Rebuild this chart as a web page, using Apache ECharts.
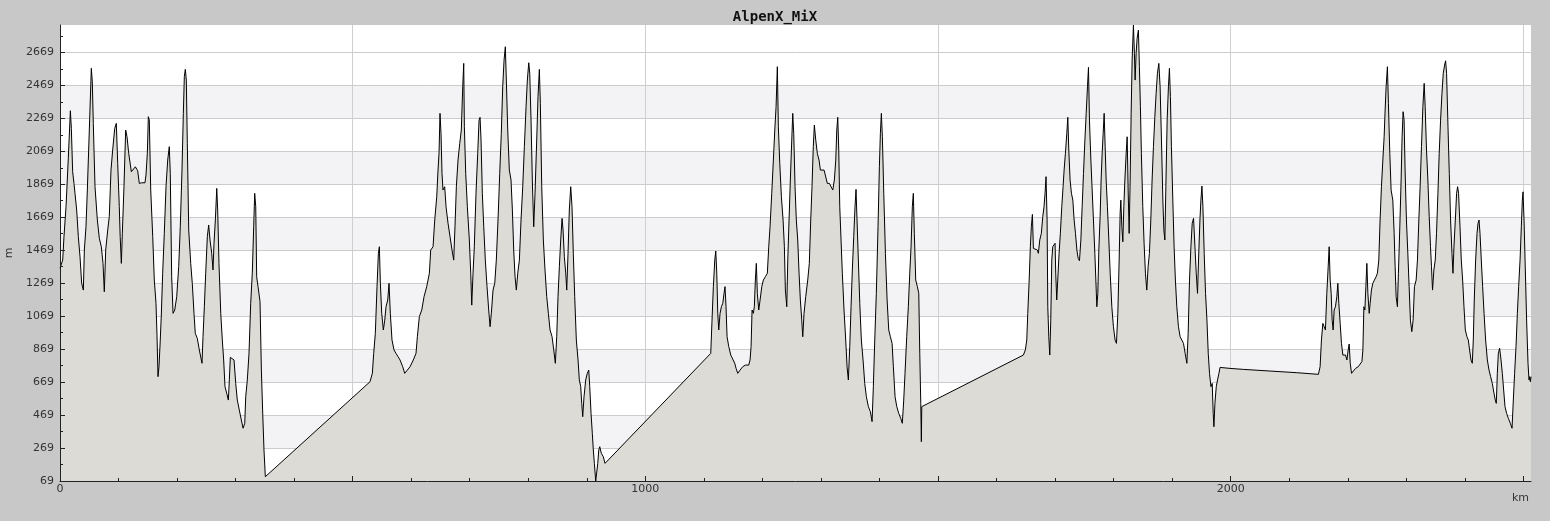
<!DOCTYPE html>
<html><head><meta charset="utf-8">
<script src="https://cdn.jsdelivr.net/npm/echarts@6/dist/echarts.min.js"></script>
<style>html,body{margin:0;padding:0;background:#c8c8c8}#c{width:1550px;height:521px}</style>
</head><body><div id="c"></div>
<script>
const chartTitle = 'AlpenX_MiX';
const xName = 'km';
const yName = 'm';

// elevation profile [km, m], split where the track jumps
const seg1 = [[0,1360],[4.6,1409],[6.8,1551],[10.3,1733],[14.2,2026],[17.7,2315],[19.4,2208],[21.6,1945],[23.9,1874],[25.6,1814],[28.5,1713],[31.3,1551],[34.2,1429],[37,1268],[39.9,1227],[41.6,1470],[44.4,1611],[46.7,1834],[50.1,2198],[53.5,2572],[55.2,2491],[56.9,2238],[59.8,1854],[63.8,1652],[67.2,1541],[70.6,1490],[73.5,1389],[75.7,1217],[78.1,1470],[81.5,1591],[84.2,1672],[87.1,1955],[90,2077],[93.5,2208],[96.2,2238],[98.6,1996],[101.3,1733],[102.8,1551],[104.8,1389],[106.5,1571],[109.3,1854],[112.2,2198],[114.5,2157],[117.4,2056],[121.9,1945],[125.3,1955],[128.7,1975],[132.7,1951],[135.5,1874],[139.6,1878],[145.2,1878],[146.9,1925],[149.2,2056],[150.9,2279],[152.6,2258],[155,1834],[158.4,1551],[161.1,1288],[164,1147],[165.7,955],[167.4,702],[169.1,762],[170.9,894],[173.1,1076],[175.4,1329],[178.2,1571],[181.1,1854],[184,2016],[186.7,2097],[188.4,1935],[190.8,1308],[193.1,1086],[196,1106],[199.4,1187],[202.8,1369],[205.5,1611],[208.4,1955],[210.7,2299],[212.4,2522],[214.1,2566],[215.8,2501],[217.5,2117],[219.9,1591],[223.3,1389],[226,1268],[228.9,1086],[231.1,965],[234.6,934],[238,864],[242.6,783],[244.3,944],[246.6,1126],[248.9,1329],[251.7,1551],[254,1622],[256.3,1531],[259.2,1450],[261.4,1349],[263.1,1511],[265.4,1652],[267.8,1844],[269.4,1713],[271.6,1389],[274.6,1086],[277.3,924],[279.6,803],[281.9,641],[284.8,601],[287.6,560],[289.3,682],[291,819],[294.4,819],[297.3,803],[300.2,661],[302.9,560],[306.3,500],[309.8,439],[312.7,389],[315.6,419],[317.3,580],[320,682],[322.9,843],[325.8,1147],[328.5,1329],[330.9,1611],[332.6,1814],[334.4,1733],[336,1308],[338.3,1248],[341.7,1157],[344,742],[346.4,469],[348.5,257],[350.8,95]];
const seg2 = [[529.6,671],[533.6,722],[535.9,843],[538.7,965],[541.6,1248],[543.9,1450],[545.6,1490],[547.3,1268],[549.6,1086],[552.4,985],[554.8,1045],[557,1126],[559.9,1167],[562.1,1268],[564.3,1086],[567.2,924],[570.6,864],[574,843],[577.5,823],[580.9,803],[583.1,813],[585.5,762],[588.9,722],[593.4,742],[598,762],[603.6,803],[608.2,843],[610.5,944],[613.9,1066],[618,1106],[621.9,1187],[626.5,1248],[631,1329],[633.3,1470],[637.3,1490],[640.2,1652],[643.6,1793],[645.8,1955],[647.5,2056],[649.2,2299],[650.9,2178],[652.6,1935],[654.3,1834],[657.2,1854],[659.5,1733],[662.9,1632],[666.3,1551],[669.7,1470],[672.6,1409],[674.8,1611],[677.1,1854],[680,2016],[682.9,2117],[685.6,2198],[688,2460],[689.7,2602],[690.8,2218],[693.1,1935],[695.9,1733],[699.3,1531],[701.7,1329],[703.4,1136],[705.6,1329],[707.8,1490],[710.7,1814],[713.6,2056],[715.9,2258],[717.6,2275],[719.3,2137],[721.5,1814],[723.9,1611],[726.6,1409],[729.5,1248],[732.4,1106],[734.7,1005],[736.9,1086],[739.8,1227],[742.7,1268],[745.4,1409],[748.3,1652],[751.2,1935],[753.9,2178],[756.3,2460],[758.6,2622],[760.8,2703],[762.5,2501],[764.9,2198],[767.6,1955],[770.5,1895],[772.8,1713],[775.1,1470],[777.4,1308],[779.6,1227],[782,1329],[784.8,1409],[787.6,1652],[790.5,1854],[793.3,2097],[796.2,2339],[798.4,2501],[800.8,2606],[802.5,2542],[804.7,2258],[806.9,1895],[809.3,1611],[811.5,1814],[814.4,2137],[816.6,2400],[818.9,2566],[820.6,2360],[823,1854],[825.7,1531],[828.6,1349],[831.5,1187],[834.3,1086],[837.2,985],[840.6,944],[843.5,864],[846.2,783],[848.6,944],[850.8,1187],[853.1,1369],[855.4,1531],[857.7,1662],[859.4,1591],[861.6,1429],[864,1329],[865.7,1227],[867.9,1450],[870.1,1713],[872.5,1854],[874.7,1733],[876.9,1450],[879.3,1187],[882.1,924],[885,803],[887.2,682],[889.6,641],[891.3,540],[893,459],[895.2,580],[898.1,682],[900.8,722],[903.3,742],[905,641],[907.2,479],[909.4,358],[911.1,257],[912.9,176],[915.2,69],[917.5,69],[918.7,176],[920.4,257],[922.1,277],[924.8,237],[928.2,216],[931.1,176]];
const seg3 = [[1111.7,843],[1113.9,1045],[1116.2,1248],[1118.6,1409],[1120.3,1464],[1122,1329],[1123.7,1086],[1125.4,985],[1127.6,1086],[1129.9,1126],[1132.3,1147],[1134.4,1207],[1136.1,1248],[1137.8,1126],[1139.6,944],[1142.5,884],[1145.9,833],[1149.3,823],[1152.7,783],[1155,752],[1157.8,722],[1161.8,742],[1166.3,762],[1170.8,772],[1176.6,772],[1178.9,803],[1180.6,884],[1182.3,1106],[1184.5,1086],[1186.2,1126],[1187.9,1288],[1189.6,1389],[1191.3,1207],[1193.7,1106],[1196,1167],[1198.9,1248],[1201.6,1288],[1205,1308],[1208.4,1329],[1210.8,1490],[1213,1611],[1215.9,1814],[1218.7,2016],[1221.1,2198],[1223.3,2339],[1225.5,2582],[1227.2,2218],[1229.6,1996],[1232.4,1793],[1235.3,1652],[1237.5,1490],[1239.2,1227],[1241.6,1126],[1243.3,1409],[1245.5,1652],[1247.7,1895],[1250.1,2137],[1251.8,2299],[1253.5,2178],[1255.7,1854],[1257.9,1652],[1260.3,1531],[1262.6,1329],[1264.8,1167],[1267.2,1045],[1268.9,944],[1271.1,1086],[1274,1187],[1277.4,1288],[1280.1,1389],[1282.5,1652],[1284.7,1854],[1286.9,2097],[1288.7,2228],[1291.1,2137],[1293.8,2056],[1296.7,2016],[1299,1955],[1301.9,1965],[1305.3,1955],[1308.7,1945],[1310.9,1874],[1314.4,1874],[1317.8,1884],[1320.2,1834],[1322.9,1895],[1325.3,2016],[1327,2198],[1328.7,2275],[1330.4,2077],[1332.1,1733],[1334.3,1531],[1336.5,1329],[1339.4,1106],[1342.3,924],[1344.6,762],[1346.8,682],[1349.2,884],[1351.4,1126],[1353.6,1349],[1356,1551],[1358.2,1733],[1359.9,1838],[1361.6,1652],[1363.9,1409],[1366.3,1147],[1369,924],[1371.9,803],[1374.8,661],[1377.6,580],[1381,520],[1384.4,489],[1387.3,429],[1389.5,641],[1391.9,924],[1394.6,1207],[1397.5,1611],[1399.8,1975],[1401.5,2178],[1403.2,2299],[1404.9,2157],[1407.3,1814],[1410.1,1450],[1413,1167],[1415.8,985],[1418.6,944],[1421.5,904],[1423.7,762],[1426.6,580],[1429.5,520],[1432.9,479],[1436.3,449],[1439,419],[1441.4,560],[1443.6,722],[1446.5,944],[1449.3,1126],[1451.7,1329],[1453.9,1490],[1456.1,1733],[1457.8,1814],[1459.5,1571],[1461.9,1288],[1464.7,1248],[1467.1,1207],[1468.8,843],[1470.5,540],[1471.5,307],[1472.2,520]];
const seg4 = [[1645.8,833],[1649.2,864],[1651.6,924],[1653.3,1086],[1655.5,1268],[1657.7,1490],[1659.4,1611],[1661.2,1686],[1662.9,1480],[1666.3,1470],[1669.7,1470],[1671.4,1450],[1673.8,1531],[1676.5,1571],[1678.9,1672],[1681.1,1733],[1682.8,1814],[1684.5,1915],[1686.3,1652],[1687.5,1126],[1689.2,944],[1690.9,833],[1692.6,1045],[1694.3,1409],[1696,1490],[1698.2,1490],[1699.9,1511],[1701.1,1329],[1702.8,1167],[1704.5,1288],[1706.8,1450],[1709,1571],[1711.4,1733],[1713.6,1854],[1715.4,1955],[1717.6,2056],[1720,2178],[1721.7,2275],[1723.4,2077],[1725.6,1895],[1727.9,1814],[1730.3,1773],[1732.5,1652],[1734.8,1571],[1737.2,1470],[1739.4,1420],[1741.6,1405],[1744,1531],[1746.2,1733],[1748.5,1935],[1750.9,2137],[1753.1,2299],[1755.3,2460],[1757,2578],[1758.7,2258],[1761.1,2016],[1763.3,1834],[1765.5,1652],[1767.9,1450],[1769.6,1288],[1771.3,1126],[1773,1207],[1774.7,1470],[1776.9,1672],[1778.6,1895],[1780.4,2056],[1782.1,2178],[1783.8,2299],[1785.5,2097],[1787.2,1895],[1789.4,1733],[1791.8,1531],[1794.1,1329],[1796.9,1126],[1799.6,1005],[1802.5,924],[1804.8,904],[1807.2,1086],[1809.4,1409],[1811.1,1692],[1812.3,1773],[1814,1611],[1815.7,1520],[1817.4,1733],[1819.2,1895],[1821.4,2056],[1823.1,2157],[1824.8,1834],[1826.5,1571],[1828.2,1895],[1829.9,2299],[1831.6,2622],[1833.8,2835],[1835.5,2663],[1836.7,2501],[1838.4,2663],[1840.1,2754],[1842.3,2804],[1844,2582],[1845.7,2339],[1847.4,2056],[1849.8,1733],[1852,1511],[1854.3,1329],[1856.6,1227],[1858.9,1369],[1861.1,1450],[1863.5,1652],[1865.7,1895],[1868,2097],[1870.4,2279],[1872.6,2420],[1874.8,2542],[1877.2,2602],[1879.4,2460],[1881.7,2137],[1884.1,1773],[1885.8,1591],[1887.5,1531],[1889.2,1854],[1891.4,2258],[1893.6,2460],[1895.3,2572],[1897,2400],[1898.7,2097],[1901.1,1773],[1903.3,1490],[1905.5,1288],[1907.9,1126],[1910.7,1005],[1913.6,944],[1916.5,924],[1919.3,904],[1922.2,843],[1925.1,783],[1927.3,965],[1929.6,1288],[1932,1490],[1934.2,1632],[1936.5,1662],[1938.9,1490],[1941.1,1329],[1943.3,1207],[1945,1409],[1947.4,1652],[1949.1,1773],[1950.8,1858],[1952.5,1733],[1954.7,1450],[1957,1207],[1959.4,1045],[1961.6,843],[1963.8,722],[1966.2,641],[1968.4,661],[1970.1,479],[1971.3,398],[1973,540],[1975.3,641],[1977.5,682],[1979.9,722],[1981.8,758],[1998.9,752],[2021.6,746],[2067.3,736],[2112.8,726],[2149.8,716],[2152.7,762],[2155,924],[2157.4,1025],[2159.6,1005],[2161.8,985],[2164.2,1207],[2166.5,1369],[2168.2,1490],[2169.9,1288],[2171.6,1207],[2173.3,1045],[2175,985],[2176.7,1106],[2178.9,1126],[2181.3,1187],[2183,1268],[2184.7,1147],[2187,1025],[2189.2,904],[2191.6,833],[2193.8,823],[2196.1,833],[2198.5,803],[2200.7,864],[2202.4,900],[2204.2,783],[2206.4,722],[2209.8,732],[2213.2,752],[2217.8,762],[2221.2,772],[2224.1,793],[2225.8,864],[2227.5,1126],[2229.2,1106],[2230.9,1248],[2232.6,1389],[2234.3,1207],[2236.6,1086],[2238.2,1147],[2240.4,1227],[2242.8,1268],[2245.5,1288],[2248.4,1308],[2250.6,1329],[2253,1409],[2255.2,1652],[2257.5,1854],[2259.9,2016],[2262.1,2157],[2263.8,2319],[2265.5,2460],[2267.7,2582],[2269.4,2360],[2271.8,2056],[2274,1834],[2276.9,1773],[2279.2,1571],[2280.9,1369],[2282.6,1187],[2284.8,1126],[2286.5,1329],[2288.9,1611],[2291.1,1895],[2292.8,2157],[2294.5,2309],[2296.2,2258],[2297.9,1955],[2300.2,1652],[2302.6,1450],[2304.8,1248],[2307,1045],[2309.4,975],[2311.6,1045],[2313.9,1248],[2316.8,1288],[2319,1409],[2321.4,1652],[2323.6,1854],[2325.9,2097],[2328.3,2339],[2330.5,2481],[2332.2,2339],[2334.5,2077],[2336.8,1895],[2339.1,1672],[2341.3,1490],[2343,1369],[2344.8,1227],[2347.1,1349],[2349.4,1409],[2351.6,1571],[2354,1814],[2356.2,2056],[2358.5,2258],[2360.9,2420],[2363.1,2542],[2365.4,2592],[2367.1,2618],[2368.8,2542],[2371.2,2218],[2373.4,1935],[2375.6,1652],[2378,1450],[2379.7,1329],[2381.4,1490],[2383.7,1652],[2385.9,1814],[2387.6,1854],[2389.3,1814],[2391.7,1611],[2393.9,1409],[2396.2,1288],[2398.5,1126],[2400.8,985],[2403.6,944],[2405.9,924],[2408.1,864],[2410.5,803],[2412.7,783],[2414.4,924],[2416.1,1167],[2418.4,1409],[2420.8,1571],[2422.5,1632],[2424.2,1652],[2425.9,1571],[2428.1,1409],[2430.4,1248],[2432.8,1086],[2435.5,924],[2438.4,803],[2441.3,742],[2444,702],[2446.9,661],[2449.8,601],[2452,560],[2453.7,540],[2455.5,722],[2457.2,843],[2459.4,874],[2461.8,803],[2464,722],[2466.3,621],[2468.6,520],[2471.4,479],[2474.3,449],[2477.7,419],[2480.6,389],[2482.8,560],[2485,722],[2487.4,884],[2489.7,1086],[2491.9,1248],[2494.3,1409],[2496.5,1611],[2498.2,1773],[2499.4,1823],[2501.1,1652],[2503.3,1349],[2505.5,1045],[2507.9,783],[2509.6,682],[2510.7,702],[2511.9,671],[2513,702]];

// axis scales and ticks
const xMin = 0, xMax = 2513;
const yMin = 69, yMax = 2835;
const xMajorTicks = [0, 500, 1000, 1500, 2000, 2500];
const xMinorTicks = [100, 200, 300, 400, 600, 700, 800, 900, 1100, 1200, 1300, 1400, 1600, 1700, 1800, 1900, 2100, 2200, 2300, 2400];
const xTickLabels = [0, 1000, 2000];
const yTicks = [69, 269, 469, 669, 869, 1069, 1269, 1469, 1669, 1869, 2069, 2269, 2469, 2669];
const yMinorTicks = [169, 369, 569, 769, 969, 1169, 1369, 1569, 1769, 1969, 2169, 2369, 2569, 2769];

const profile = seg1.concat(seg2, seg3, seg4);

const WHITE = '#ffffff', BAND = '#f3f2f5';
const bandColors = [];
for (let i = 0; i < 14; i++) bandColors.push(i === 13 ? WHITE : (i % 2 ? BAND : WHITE));

const gridBox = { left: 60, right: 19, top: 25, bottom: 40, outerBoundsMode: 'none', containLabel: false };
const axisDark = '#222';
const labelFont = { color: '#333', fontFamily: 'DejaVu Sans', fontSize: 11 };
const plainNum = v => String(Math.round(v));

const chart = echarts.init(document.getElementById('c'), null, { renderer: 'canvas' });
chart.setOption({
  backgroundColor: '#c8c8c8',
  animation: false,
  title: {
    text: chartTitle, left: 'center', top: 5,
    textStyle: { fontFamily: 'DejaVu Sans Mono', fontSize: 14, fontWeight: 'bold', color: '#111' }
  },
  grid: [
    Object.assign({ show: true, backgroundColor: WHITE, borderWidth: 0 }, gridBox),
    Object.assign({}, gridBox),
    Object.assign({}, gridBox)
  ],
  xAxis: [
    {
      type: 'value', gridIndex: 0, min: xMin, max: xMax, interval: 500,
      axisLine: { show: false },
      axisTick: { show: false, customValues: xMajorTicks },
      axisLabel: Object.assign({ customValues: xTickLabels, margin: 3, formatter: plainNum }, labelFont),
      splitLine: { show: true, lineStyle: { color: '#cfcfcf', width: 1 } }
    },
    {
      type: 'value', gridIndex: 1, min: xMin, max: xMax, z: 10,
      axisLine: { show: true, lineStyle: { color: axisDark, width: 1 } },
      axisTick: { show: true, inside: true, length: 5, customValues: xMajorTicks, lineStyle: { color: axisDark } },
      axisLabel: { show: false },
      splitLine: { show: false }
    },
    {
      type: 'value', gridIndex: 2, min: xMin, max: xMax, z: 10,
      axisLine: { show: false },
      axisTick: { show: true, inside: true, length: 3, customValues: xMinorTicks, lineStyle: { color: axisDark } },
      axisLabel: { show: false },
      splitLine: { show: false }
    }
  ],
  yAxis: [
    {
      type: 'value', gridIndex: 0, min: yMin, max: yMax, interval: 200,
      name: yName, nameLocation: 'middle', nameGap: 43, nameRotate: 90,
      nameTextStyle: { color: '#333', fontFamily: 'DejaVu Sans', fontSize: 11 },
      axisLine: { show: false },
      axisTick: { show: false, customValues: yTicks },
      axisLabel: Object.assign({ customValues: yTicks, margin: 6, formatter: plainNum }, labelFont),
      splitLine: { show: true, lineStyle: { color: '#cccccc', width: 1 } },
      splitArea: { show: true, areaStyle: { color: bandColors } }
    },
    {
      type: 'value', gridIndex: 1, min: yMin, max: yMax, z: 10,
      axisLine: { show: true, lineStyle: { color: axisDark, width: 1 } },
      axisTick: { show: true, inside: true, length: 5, customValues: yTicks, lineStyle: { color: axisDark } },
      axisLabel: { show: false },
      splitLine: { show: false }
    },
    {
      type: 'value', gridIndex: 2, min: yMin, max: yMax, z: 10,
      axisLine: { show: false },
      axisTick: { show: true, inside: true, length: 3, customValues: yMinorTicks, lineStyle: { color: axisDark } },
      axisLabel: { show: false },
      splitLine: { show: false }
    }
  ],
  graphic: [
    { type: 'text', right: 21, top: 493, style: { text: xName, fill: '#333', font: '11px "DejaVu Sans"' } }
  ],
  series: [{
    type: 'line', xAxisIndex: 0, yAxisIndex: 0,
    data: profile,
    symbol: 'none', showSymbol: false, smooth: false,
    lineStyle: { color: '#000', width: 1 },
    areaStyle: { color: '#dcdbd6', opacity: 1, origin: 'start' },
    silent: true
  }]
});
</script>
</body></html>
